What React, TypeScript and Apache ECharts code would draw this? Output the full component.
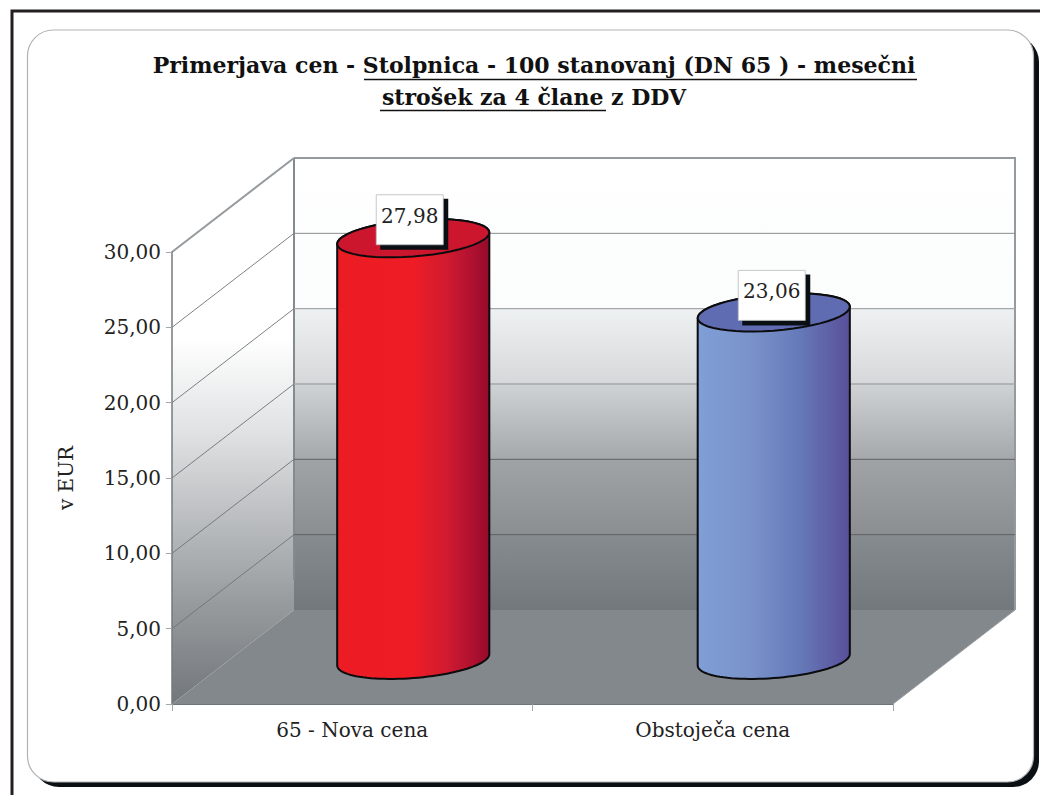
import React, { useEffect, useRef } from "react";
import * as echarts from "echarts";

const categories = ["65 - Nova cena", "Obstoječa cena"];
const values = [27.98, 23.06];
const yTicks = [0, 5, 10, 15, 20, 25, 30];
const titleText = "Primerjava cen - Stolpnica - 100 stanovanj (DN 65 ) - mesečni\nstrošek za 4 člane z DDV";
const yName = "v EUR";

const FONT = "'DejaVu Serif', serif";
const DX = 122;
const DY = -94;
const bodyStops = [
  [[0, "#ec1c24"], [0.5, "#ee1c25"], [0.72, "#d01b30"], [0.9, "#ad1030"], [1, "#950a2a"]],
  [[0, "#7f9fd6"], [0.35, "#7a92ca"], [0.65, "#667cba"], [0.85, "#5f62a8"], [1, "#59509a"]],
];
const capColors = ["#cb162e", "#5f6cb2"];
const backStops = [
  [0, "#ffffff"], [0.33, "#fbfcfc"], [0.335, "#eef1f2"], [0.497, "#d6d8da"], [0.503, "#cfd2d3"],
  [0.664, "#a6a9ac"], [0.67, "#a0a3a6"], [0.83, "#8b8f92"], [0.836, "#868b90"], [1, "#73787d"],
];
const sideStops = [
  [0, "#ffffff"], [0.33, "#ffffff"], [0.5, "#e0e2e3"], [0.7, "#b2b5b7"], [0.82, "#979a9d"], [1, "#72777c"],
];
const fmt = (v: number) => v.toFixed(2).replace(".", ",");
const grad = (x2: number, y2: number, stops: any[]) =>
  new echarts.graphic.LinearGradient(0, 0, x2, y2, stops.map(([offset, color]) => ({ offset, color })));

function ring(cx: number, cy: number, r: number, from: number, to: number) {
  const pts: number[][] = [];
  const n = 48;
  for (let i = 0; i <= n; i++) {
    const t = from + ((to - from) * i) / n;
    pts.push([cx + r * Math.cos(t), cy - 0.075 * r * Math.cos(t) + 0.24 * r * Math.sin(t)]);
  }
  return pts;
}

export default function App() {
  const ref = useRef<HTMLDivElement>(null);
  useEffect(() => {
    document.body.style.margin = "0";
    const chart = echarts.init(ref.current!, undefined, { renderer: "svg" });
    const option: any = {
      animation: false,
      backgroundColor: "#fff",
      title: {
        text: titleText,
        left: 529,
        top: 44,
        textAlign: "center",
        textStyle: { fontFamily: FONT, fontWeight: "bold", fontSize: 22, lineHeight: 32, color: "#111" },
      },
      graphic: [
        { type: "rect", z: -10, shape: { x: 12, y: 11, width: 1100, height: 900 }, style: { fill: "#fff", stroke: "#231f20", lineWidth: 3 } },
        { type: "rect", z: -9, shape: { x: 33, y: 36, width: 1006, height: 751, r: 26 }, style: { fill: "#0a0f14" } },
        { type: "rect", z: -8, shape: { x: 27.5, y: 30, width: 1006, height: 752, r: 26 }, style: { fill: "#fff", stroke: "#b0b3b6", lineWidth: 1.2 } },
        { type: "line", z: 5, shape: { x1: 364, y1: 79.5, x2: 917, y2: 79.5 }, style: { stroke: "#111", lineWidth: 1.6 } },
        { type: "line", z: 5, shape: { x1: 380, y1: 110.5, x2: 606, y2: 110.5 }, style: { stroke: "#111", lineWidth: 1.6 } },
      ],
      grid: { left: 172, right: 147, top: 252, bottom: 91 },
      xAxis: {
        type: "category",
        data: categories,
        z: 3,
        axisLine: { lineStyle: { color: "#6f7478", width: 1 } },
        axisTick: { show: true, length: 7, lineStyle: { color: "#a4a7aa" } },
        axisLabel: { fontFamily: FONT, fontSize: 20, color: "#222", margin: 16 },
        splitLine: { show: false },
      },
      yAxis: {
        type: "value",
        min: 0,
        max: 30,
        interval: 5,
        z: 3,
        name: yName,
        nameLocation: "middle",
        nameRotate: 90,
        nameGap: 96,
        nameTextStyle: { fontFamily: FONT, fontSize: 20, color: "#222" },
        axisLine: { show: true, lineStyle: { color: "#747a7e", width: 1.5 } },
        axisTick: { show: true, length: 6, lineStyle: { color: "#a4a7aa" } },
        axisLabel: { fontFamily: FONT, fontSize: 20, color: "#222", margin: 11, formatter: (v: number) => fmt(v) },
        splitLine: { show: false },
      },
      series: [
        {
          type: "custom",
          name: "walls",
          z: 1,
          silent: true,
          data: [[0, 30]],
          renderItem: (params: any, api: any) => {
            const cs = params.coordSys;
            const L = cs.x, R = cs.x + cs.width, T = cs.y, B = cs.y + cs.height;
            return {
              type: "group",
              children: [
                { type: "polygon", shape: { points: [[L + DX, T + DY], [R + DX, T + DY], [R + DX, B + DY], [L + DX, B + DY]] },
                  style: { fill: grad(0, 1, backStops) } },
                { type: "polygon", shape: { points: [[L, T], [L + DX, T + DY], [L + DX, B + DY], [L, B]] },
                  style: { fill: grad(0, 1, sideStops) } },
                { type: "polygon", shape: { points: [[L, B], [R, B], [R + DX, B + DY], [L + DX, B + DY]] },
                  style: { fill: "#83888d" } },
                { type: "line", shape: { x1: R, y1: B, x2: R + DX, y2: B + DY }, style: { stroke: "#9a9ea1", lineWidth: 1 } },
                { type: "polyline", shape: { points: [[L + DX, T + DY], [R + DX, T + DY], [R + DX, B + DY]] },
                  style: { fill: "none", stroke: "#949a9e", lineWidth: 2 } },
                { type: "line", shape: { x1: L + DX, y1: T + DY, x2: L + DX, y2: B + DY - 30 }, style: { stroke: "#848b8f", lineWidth: 2 } },
              ],
            };
          },
        },
        {
          type: "custom",
          name: "gridlines",
          z: 1.5,
          silent: true,
          data: yTicks.slice(1).map((v) => [0, v]),
          renderItem: (params: any, api: any) => {
            const cs = params.coordSys;
            const v = api.value(1);
            const y = api.coord([0, v])[1];
            const L = cs.x, R = cs.x + cs.width;
            const diag = { type: "line", shape: { x1: L, y1: y, x2: L + DX, y2: y + DY },
              style: { stroke: v === 30 ? "#949a9e" : "#6f7376", lineWidth: v === 30 ? 2 : 0.9 } };
            if (v === 30) return { type: "group", children: [diag] };
            const light = v >= 15;
            const back = { type: "line", shape: { x1: L + DX, y1: y + DY, x2: R + DX, y2: y + DY },
              style: { stroke: v === 25 ? "#8a8d90" : light ? "#a5a9ab" : "#5e6266", lineWidth: light && v !== 25 ? 1.4 : 1 } };
            return { type: "group", children: [diag, back] };
          },
        },
        {
          type: "custom",
          name: "cylinders",
          z: 2,
          data: values.map((v, i) => [i, v]),
          renderItem: (params: any, api: any) => {
            const i = params.dataIndex;
            const v = api.value(1);
            const [cx0, y1] = api.coord([i, v]);
            const y0 = api.coord([i, 0])[1];
            const r = api.size([1, 0])[0] * 0.211;
            const cx = cx0 + DX / 2;
            const baseY = y0 + DY * 0.47;
            const topY = y1 + DY * 0.47;
            const body = [...ring(cx, topY, r, Math.PI, 2 * Math.PI), ...ring(cx, baseY, r, 0, Math.PI)];
            const lx = cx - (i === 0 ? 37 : 35.5);
            const ly = topY - (i === 0 ? 43.5 : 42);
            return {
              type: "group",
              children: [
                { type: "polygon", shape: { points: body }, style: { fill: grad(1, 0, bodyStops[i]), stroke: "#0c0c0e", lineWidth: 2 } },
                { type: "polygon", shape: { points: ring(cx, topY, r, 0, 2 * Math.PI) }, style: { fill: capColors[i], stroke: "#0c0c0e", lineWidth: 2 } },
                { type: "rect", shape: { x: lx + 4, y: ly + 4, width: 68, height: 51 }, style: { fill: "#0a0f14" } },
                { type: "rect", shape: { x: lx, y: ly, width: 67, height: 50 }, style: { fill: "#fff", stroke: "#b8bbbe", lineWidth: 0.8 } },
                { type: "text", style: { x: lx + 33.5, y: ly + 21, text: fmt(v), fill: "#222", font: `20px ${FONT}`, align: "center", verticalAlign: "middle" } },
              ],
            };
          },
        },
      ],
    };
    chart.setOption(option);
    return () => chart.dispose();
  }, []);
  return <div ref={ref} style={{ position: "fixed", left: 0, top: 0, width: 1040, height: 795 }} />;
}
